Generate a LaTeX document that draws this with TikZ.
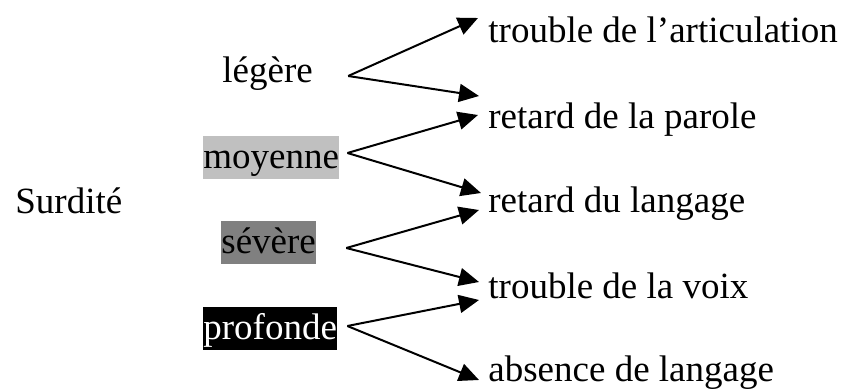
\documentclass[tikz,border=0pt]{standalone}
\usepackage{fontspec}
\setmainfont{Liberation Serif}
\usepackage{xcolor}
\definecolor{lightgrey}{HTML}{C0C0C0}
\definecolor{midgrey}{HTML}{808080}
\usetikzlibrary{arrows.meta}

\begin{document}
\begin{tikzpicture}[x=0.5pt, y=-0.5pt,
  every node/.style={font=\fontsize{18.5pt}{22pt}\selectfont, inner sep=0pt},
  gradebox/.style={anchor=base west, text height=16pt, text depth=5.5pt},
  effect/.style={anchor=base west},
  arr/.style={-{Triangle[length=10pt,width=9pt]}, line width=1pt}]
  \useasboundingbox (0,0) rectangle (842,391);

  % main label
  \node[anchor=base west] (surdite) at (15,213) {Surdité};

  % degrees of deafness
  \node[gradebox] (legere) at (222,83) {légère};
  \node[gradebox, fill=lightgrey] (moyenne) at (203,168) {moyenne};
  \node[gradebox, fill=midgrey] (severe) at (221,253) {sévère};
  \node[gradebox, fill=black, text=white] (profonde) at (203,339) {profonde};

  % consequences
  \node[effect] (articulation) at (488,42) {trouble de l’articulation};
  \node[effect] (parole) at (488,128) {retard de la parole};
  \node[effect] (langage) at (488,212) {retard du langage};
  \node[effect] (voix) at (488,298) {trouble de la voix};
  \node[effect] (absence) at (488,381) {absence de langage};

  % fork points right of each degree
  \coordinate (flegere) at ([shift={(35,-7)}]legere.base east);
  \coordinate (fmoyenne) at ([shift={(8,-15)}]moyenne.base east);
  \coordinate (fsevere) at ([shift={(30,-5)}]severe.base east);
  \coordinate (fprofonde) at ([shift={(10,-13)}]profonde.base east);

  % arrows
  \draw[arr] (flegere) -- ([shift={(-10,-24)}]articulation.base west);
  \draw[arr] (flegere) -- ([shift={(-9,-32)}]parole.base west);
  \draw[arr] (fmoyenne) -- ([shift={(-10,-13)}]parole.base west);
  \draw[arr] (fmoyenne) -- ([shift={(-7,-19)}]langage.base west);
  \draw[arr] (fsevere) -- ([shift={(-9,-2)}]langage.base west);
  \draw[arr] (fsevere) -- ([shift={(-9,-16)}]voix.base west);
  \draw[arr] (fprofonde) -- ([shift={(-9,2)}]voix.base west);
  \draw[arr] (fprofonde) -- ([shift={(-9,-1)}]absence.base west);
\end{tikzpicture}
\end{document}
